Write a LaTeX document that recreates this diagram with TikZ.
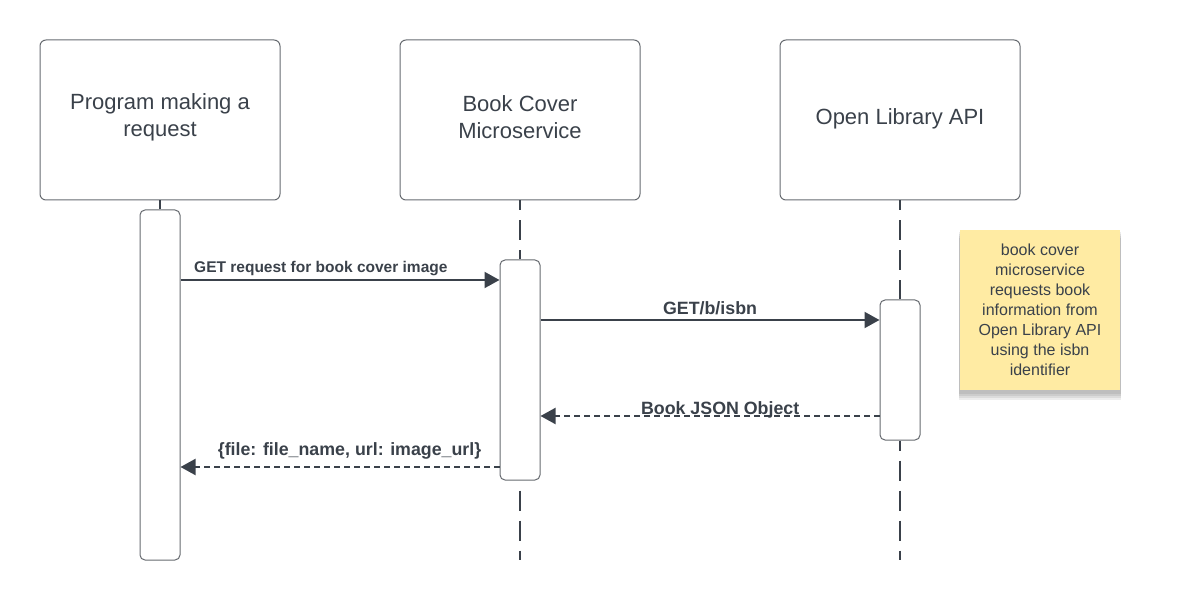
\documentclass[tikz,border=0pt]{standalone}
\usepackage{fontspec}
\setmainfont{Liberation Sans}
\usetikzlibrary{positioning,arrows.meta,shadows}
\definecolor{ink}{HTML}{3A414A}
\definecolor{edge}{HTML}{666A70}
\definecolor{sticky}{HTML}{FFEBA3}

\begin{document}
\begin{tikzpicture}[x=1pt, y=-1pt,
        actor/.style={draw=edge, line width=1pt, rounded corners=6pt, minimum width=240pt, minimum height=160pt, align=center, text=ink, font=\fontsize{22}{27}\selectfont},
        activation/.style={draw=edge, line width=1pt, fill=white, rounded corners=5pt, minimum width=40pt},
        lifeline/.style={draw=ink, line width=2pt, dash pattern=on 20pt off 10pt, dash phase=#1},
        msg/.style={draw=ink, line width=2pt, -{Triangle[length=15pt,width=16pt]}},
        reply/.style={msg, dash pattern=on 6pt off 4pt},
        lbl/.style={text=ink, inner sep=0pt, anchor=base, font=\bfseries\fontsize{#1}{19}\selectfont},
        softshadow/.style={general shadow={shadow yshift=-#1pt, shadow scale=1.01, opacity=0.07, fill=black}},
        note/.style={fill=sticky, minimum width=160pt, minimum height=160pt, align=center, text=ink, font=\fontsize{16}{20}\selectfont,
            softshadow=9, softshadow=7, softshadow=5, softshadow=3}]
    \useasboundingbox (0,0) rectangle (1177,601);

    \node[actor, text depth=10pt] (program) at (160,120) {Program making a\\request};
    \node[actor, text depth=6pt, right=119pt of program] (cover) {Book Cover\\Microservice};
    \node[actor, text depth=6.6pt, right=139pt of cover] (library) {Open Library API};

    \node[activation, minimum height=350pt, below=9pt of program] (progact) {};
    \node[activation, minimum height=220pt, below=59pt of cover] (coveract) {};
    \node[activation, minimum height=140pt, below=99pt of library] (libact) {};

    \coordinate (coverend) at (520,560);
    \coordinate (libend) at (900,560);

    \draw[lifeline=10pt] (program.south) -- (progact.north);
    \draw[lifeline=10pt] (cover.south) -- (coveract.north);
    \draw[lifeline=20pt] (coveract.south) -- (coverend);
    \draw[lifeline=10pt] (library.south) -- (libact.north);
    \draw[lifeline=10pt] (libact.south) -- (libend);

    \draw[msg] (progact.east |- 0,280) -- (coveract.west |- 0,280)
        node[lbl=15.5, pos=0.44, yshift=7pt] {GET request for book cover image};
    \draw[msg] (coveract.east |- 0,320) -- (libact.west |- 0,320)
        node[lbl=17.8, midway, yshift=5pt] {GET/b/isbn};
    \draw[reply] (libact.west |- 0,416) -- (coveract.east |- 0,416)
        node[lbl=17.8, pos=0.47, yshift=2pt] {Book JSON Object};
    \draw[reply] (coveract.west |- 0,467) -- (progact.east |- 0,467)
        node[lbl=17.8, pos=0.47, yshift=12pt] {\{file: file\_name, url: image\_url\}};

    \node[note] (memo) at (1040,310) {book cover\\microservice\\requests book\\information from\\Open Library API\\using the isbn\\identifier};
\end{tikzpicture}
\end{document}
